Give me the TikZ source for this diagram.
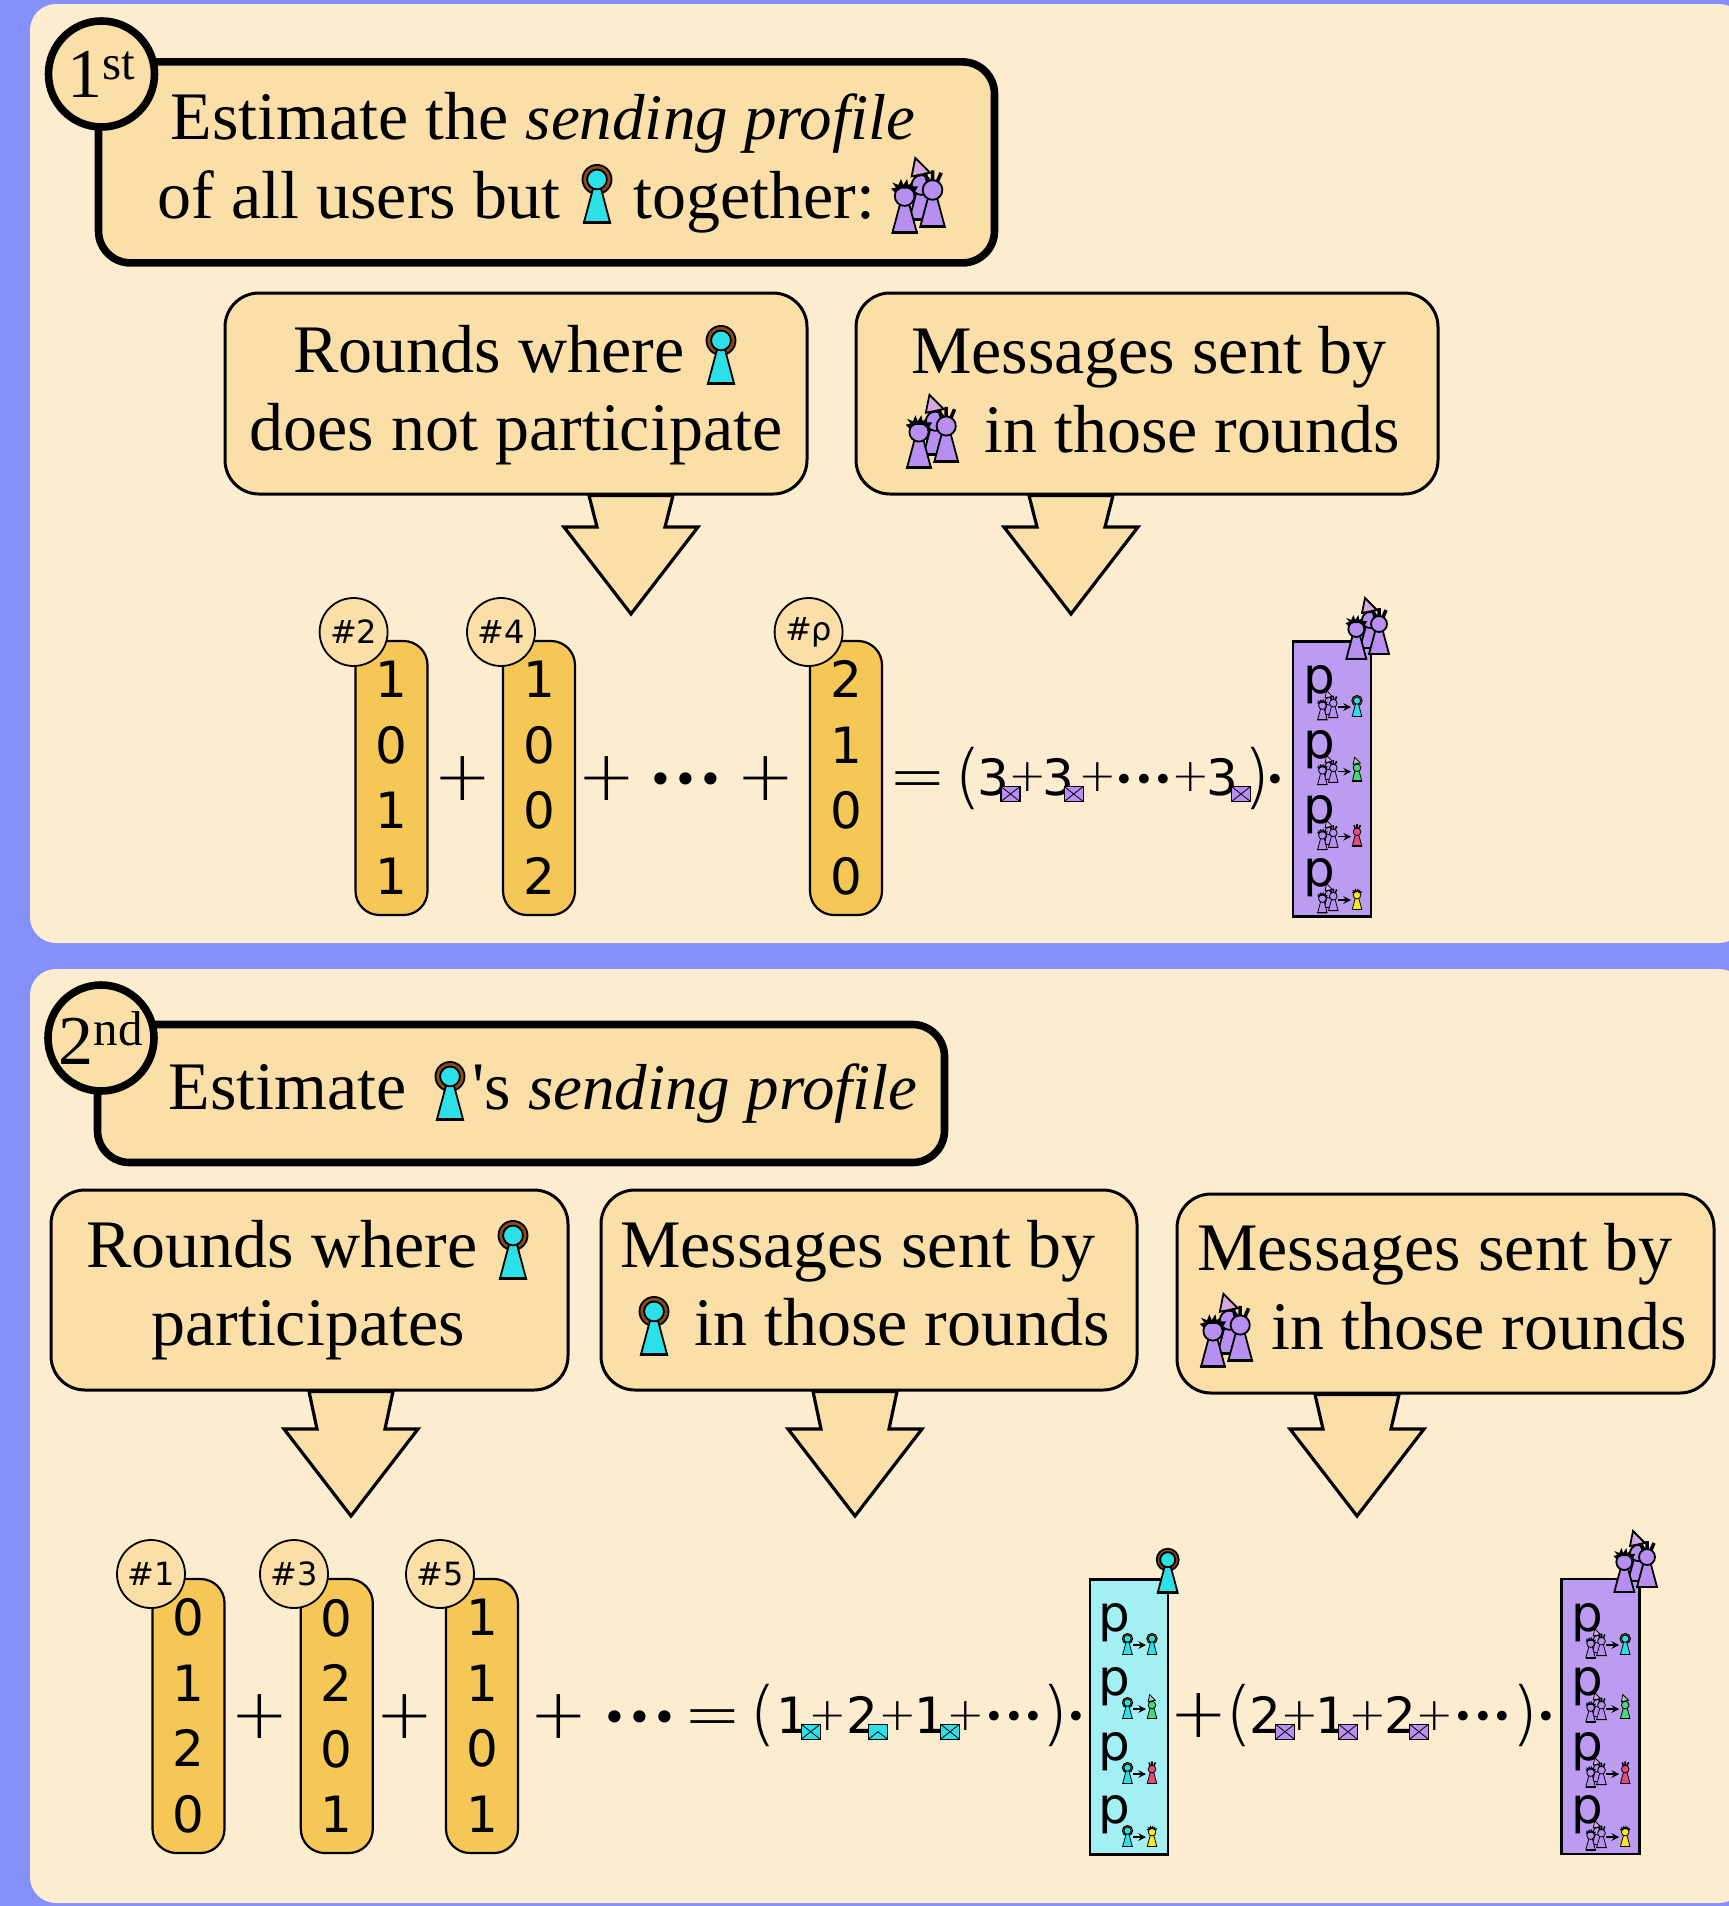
\documentclass[tikz,border=0pt]{standalone}
\usepackage{fontspec}
\setmainfont{Liberation Serif}
\newfontfamily\numfont{DejaVu Sans}
\newfontfamily\thinfont{DejaVu Sans ExtraLight}
\newcommand{\sendprof}{{\fontsize{32.5}{32.5}\selectfont\itshape sending profile}}
\definecolor{backblue}{HTML}{8690FA}
\definecolor{panelfill}{HTML}{FDEDD0}
\definecolor{boxfill}{HTML}{FAE0A8}
\definecolor{vecfill}{HTML}{F4C757}
\definecolor{usrpurple}{HTML}{B68FF0}
\definecolor{boxpurple}{HTML}{BC9CF0}
\definecolor{usrcyan}{HTML}{2CE0E8}
\definecolor{boxcyan}{HTML}{A2F0F4}
\definecolor{usrgreen}{HTML}{48D87A}
\definecolor{usrred}{HTML}{E84B7A}
\definecolor{usryellow}{HTML}{F8E820}
\definecolor{usrbrown}{HTML}{8B4A18}
\definecolor{hatpink}{HTML}{EAB8D8}
\tikzset{
    pics/usrbody/.style={code={
        \filldraw[fill=#1] (-10,0) -- (-2.5,-28) -- (2.5,-28) -- (10,0) -- cycle;
        \fill (-10.5,-1.5) rectangle (10.5,1);
    }},
    pics/ringusr/.style={code={
        \filldraw[fill=usrbrown] (0,-33) circle (11);
        \pic[transform shape] {usrbody=#1};
        \filldraw[fill=#1] (0,-33) circle (7.5);
    }},
    pics/hatusr/.style={code={
        \pic[transform shape] {usrbody=#1};
        \filldraw[fill=#1] (0,-28) circle (8);
        \filldraw[fill=hatpink!60!#1] (-5,-50) -- (7,-38) -- (-8,-35) -- cycle;
    }},
    pics/antusr/.style={code={
        \pic[transform shape] {usrbody=#1};
        \filldraw[fill=#1] (0,-30) circle (8);
        \draw[line width=1.4\pgflinewidth] (-4,-37) -- (-6,-44) (0,-38) -- (0,-46) (4,-37) -- (7,-44);
    }},
    pics/spikeusr/.style={code={
        \pic[transform shape] {usrbody=#1};
        \filldraw[fill=#1] (0,-30) circle (8);
        \fill (-8,-33) -- (-11,-36) -- (-7,-37) -- (-10,-41) -- (-5,-39) -- (-3,-44) -- (-1,-39) -- (2,-44)
            -- (3,-39) -- (7,-42) -- (6,-38) -- (11,-38) -- (8,-33) -- (3,-36) -- (-3,-36) -- cycle;
    }},
    pics/trio/.style={code={
        \pic[transform shape] at (2,-11) {hatusr=#1};
        \pic[transform shape] at (11,-5) {antusr=#1};
        \pic[transform shape] at (-11.7,0) {spikeusr=#1};
    }},
    pics/envl/.style={code={
        \filldraw[fill=#1, line width=.6pt] (-9.5,-7.5) rectangle (9.5,7.5);
        \draw[line width=.4pt] (-9.5,-7.5) -- (9.5,7.5) (-9.5,7.5) -- (9.5,-7.5);
    }},
    pics/envlopen/.style={code={
        \filldraw[fill=#1, line width=.6pt] (-9.5,-7.5) rectangle (9.5,7.5);
        \draw[line width=.4pt] (-9.5,7.5) -- (0,0) -- (9.5,7.5);
    }},
    pics/prow/.style n args={3}{code={
        \node[num node] at (-25.5,-22.5) (p) {p};
        \pic[tiny icon] at (#3) {#1};
        \pic[tiny icon] at (12.5,9.5) {#2};
        \coordinate (ra) at (-6.5,0);
        \coordinate (rb) at (6.5,0);
        \draw[-stealth, line width=.7pt] (ra) -- (rb);
    }},
}
\begin{document}
\begin{tikzpicture}[x=.5pt,y=-.5pt,
    big icon/.style={line width=.9pt},
    tiny icon/.style={scale=.48,line width=.4pt},
    head box/.style={draw,fill=boxfill,line width=3.8pt,rounded corners=16pt},
    order node/.style={circle,draw,fill=boxfill,line width=3.8pt,minimum size=53pt,inner sep=0pt,font=\fontsize{35}{35}\selectfont},
    main box/.style={draw,fill=boxfill,line width=1.5pt,rounded corners=17pt},
    main text/.style={anchor=base,inner sep=0pt,font=\fontsize{34}{34}\selectfont},
    vec node/.style={draw,fill=vecfill,line width=1.1pt,rounded corners=12pt,minimum width=36pt,minimum height=137pt,
        inner sep=0pt,align=center,font=\numfont\fontsize{25}{32.75}\selectfont},
    round node/.style={circle,draw,fill=boxfill,line width=.9pt,minimum size=34pt,inner sep=0pt,font=\numfont\fontsize{16}{16}\selectfont},
    num node/.style={inner sep=0pt,font=\numfont\fontsize{25}{25}\selectfont},
    big sign/.style={inner sep=0pt,font=\thinfont\fontsize{35}{35}\selectfont},
    small sign/.style={inner sep=0pt,font=\thinfont\fontsize{23}{23}\selectfont},
    big dots/.style={inner sep=0pt,font=\numfont\fontsize{21}{21}\selectfont},
    small dots/.style={inner sep=0pt,font=\numfont\fontsize{16.7}{16.7}\selectfont},
    profile box/.style={draw,line width=1.3pt,minimum width=39pt,minimum height=137.5pt,inner sep=0pt},
    big arrow/.style={draw,fill=boxfill,line width=1.6pt,to path={(\tikztostart) ++(-42,0)
        -- ([shift={(-34,-87)}]\tikztotarget) -- ([shift={(-67,-87)}]\tikztotarget)
        -- (\tikztotarget) -- ([shift={(67,-87)}]\tikztotarget) -- ([shift={(34,-87)}]\tikztotarget)
        -- ([shift={(42,0)}]\tikztostart) -- cycle}}]
    \useasboundingbox (0,0) rectangle (1729,1906);
    \fill[backblue] (0,0) rectangle (1729,1906);
    \fill[panelfill,rounded corners=13pt] (30,4) rectangle (1745,943);
    \fill[panelfill,rounded corners=13pt] (30,969) rectangle (1745,1903);

    \node[head box,minimum width=448pt,minimum height=100.5pt] at (546.5,162.4) (head1) {};
    \node[order node] at (101.5,74) (step1) {1\textsuperscript{st}};
    \node[main text] at (543,139) (line1a) {Estimate the \sendprof};
    \node[main text] at (359,218) (line1b) {of all users but};
    \node[main text] at (754,218) (line1c) {together:};
    \pic[big icon,scale=1.32] at (597,223) {ringusr=usrcyan};
    \pic[big icon,scale=1.23] at (919,233) {trio=usrpurple};

    \node[main box,minimum width=291pt,minimum height=100.5pt] at (516,393.5) (rounds1) {};
    \node[main box,minimum width=291pt,minimum height=100.5pt] at (1147,393.5) (sent1) {};
    \node[main text] at (489,372) (text1a) {Rounds where};
    \pic[big icon,scale=1.32] at (721,384) {ringusr=usrcyan};
    \node[main text] at (516,450) (text1b) {does not participate};
    \node[main text] at (1149,373) (text1c) {Messages sent by};
    \pic[big icon,scale=1.2] at (933,468) {trio=usrpurple};
    \node[main text] at (1192,452) (text1d) {in those rounds};

    \coordinate (t1) at (631,614);
    \coordinate (t2) at (1071,614);
    \path
        (rounds1.south -| t1) edge[big arrow] (t1)
        (sent1.south -| t2) edge[big arrow] (t2)
        ;

    \node[vec node] at (391.5,778) (v2) {1\\0\\1\\1};
    \node[vec node] at (539,778) (v4) {1\\0\\0\\2};
    \node[vec node] at (846,778) (vrho) {2\\1\\0\\0};
    \node[round node] at (353.6,632) (n2) {\#2};
    \node[round node] at (501,632) (n4) {\#4};
    \node[round node] at (808.6,632) (nrho) {\#ρ};
    \node[big sign] at (462.6,779) (s1) {+};
    \node[big sign] at (607,779) (s2) {+};
    \node[big dots] at (686,784) (d1) {•••};
    \node[big sign] at (766,779) (s3) {+};
    \node[big sign] at (918,786) (s4) {=};
    \node[big sign] at (968,779) (o1) {(};
    \node[num node] at (993,777) (c1) {3};
    \pic at (1010.5,794) {envl=usrpurple};
    \node[small sign] at (1028,777) (s5) {+};
    \node[num node] at (1058,777) (c2) {3};
    \pic at (1073.7,794) {envl=usrpurple};
    \node[small sign] at (1098,777) (s6) {+};
    \node[small dots] at (1144,783) (d2) {•••};
    \node[small sign] at (1190.7,777) (s7) {+};
    \node[num node] at (1222.7,777) (c3) {3};
    \pic at (1241,794) {envl=usrpurple};
    \node[big sign] at (1256.7,779) (o2) {)};
    \node[small dots] at (1275.7,783) (d3) {•};

    \node[profile box,fill=boxpurple] at (1332,779) (all1) {};
    \pic[big icon] at (1368,659) {trio=usrpurple};
    \pic at (1344.5,707) {prow={trio=usrpurple}{ringusr=usrcyan}{-16.5,13}};
    \pic at (1344.5,771.7) {prow={trio=usrpurple}{hatusr=usrgreen}{-16.5,13}};
    \pic at (1344.5,836.7) {prow={trio=usrpurple}{antusr=usrred}{-16.5,13}};
    \pic at (1344.5,900) {prow={trio=usrpurple}{spikeusr=usryellow}{-16.5,13}};

    \node[head box,minimum width=423.5pt,minimum height=69pt] at (521,1093.5) (head2) {};
    \node[order node] at (101,1038) (step2) {2\textsuperscript{nd}};
    \node[main text] at (287.5,1109) (line2a) {Estimate};
    \pic[big icon,scale=1.32] at (450,1120) {ringusr=usrcyan};
    \node[main text] at (695,1109) (line2b) {\textquotesingle s \sendprof};

    \node[main box,minimum width=258.5pt,minimum height=100pt] at (309.5,1290) (rounds2) {};
    \node[main box,minimum width=268pt,minimum height=100pt] at (869,1290) (sent2) {};
    \node[main box,minimum width=268.5pt,minimum height=99.5pt] at (1445.5,1293.5) (other2) {};
    \node[main text] at (282,1267) (text2a) {Rounds where};
    \pic[big icon,scale=1.32] at (513,1279) {ringusr=usrcyan};
    \node[main text] at (308,1345) (text2b) {participates};
    \node[main text] at (858,1267) (text2c) {Messages sent by};
    \pic[big icon,scale=1.32] at (654,1355) {ringusr=usrcyan};
    \node[main text] at (902,1345) (text2d) {in those rounds};
    \node[main text] at (1435,1270) (text2e) {Messages sent by};
    \pic[big icon,scale=1.2] at (1227,1367) {trio=usrpurple};
    \node[main text] at (1479,1349) (text2f) {in those rounds};

    \coordinate (t3) at (351,1516);
    \coordinate (t4) at (855,1516);
    \coordinate (t5) at (1357,1516);
    \path
        (rounds2.south -| t3) edge[big arrow] (t3)
        (sent2.south -| t4) edge[big arrow] (t4)
        (other2.south -| t5) edge[big arrow] (t5)
        ;

    \node[vec node] at (188.5,1716) (v1) {0\\1\\2\\0};
    \node[vec node] at (336.8,1716) (v3) {0\\2\\0\\1};
    \node[vec node] at (482,1716) (v5) {1\\1\\0\\1};
    \node[round node] at (151,1574) (n1) {\#1};
    \node[round node] at (294,1574) (n3) {\#3};
    \node[round node] at (440,1574) (n5) {\#5};
    \node[big sign] at (260,1717) (s8) {+};
    \node[big sign] at (405,1717) (s9) {+};
    \node[big sign] at (559,1717) (s10) {+};
    \node[big dots] at (640,1722) (d4) {•••};
    \node[big sign] at (712.5,1724) (s11) {=};
    \node[big sign] at (763,1716) (o3) {(};
    \node[num node] at (792,1715) (c4) {1};
    \pic at (810.7,1731.7) {envl=usrcyan};
    \node[small sign] at (827.3,1716) (s12) {+};
    \node[num node] at (862.7,1715) (c5) {2};
    \pic at (878,1731.7) {envlopen=usrcyan};
    \node[small sign] at (897.7,1716) (s13) {+};
    \node[num node] at (930,1715) (c6) {1};
    \pic at (950,1731.7) {envl=usrcyan};
    \node[small sign] at (966,1716) (s14) {+};
    \node[small dots] at (1014,1720) (d5) {•••};
    \node[big sign] at (1055,1716) (o4) {)};
    \node[small dots] at (1076.7,1720) (d6) {•};

    \node[profile box,fill=boxcyan] at (1128.8,1717) (one2) {};
    \pic[big icon] at (1167.7,1592.7) {ringusr=usrcyan};
    \pic at (1139.5,1645) {prow={ringusr=usrcyan}{ringusr=usrcyan}{-12,9.5}};
    \pic at (1139.5,1709) {prow={ringusr=usrcyan}{hatusr=usrgreen}{-12,9.5}};
    \pic at (1139.5,1774) {prow={ringusr=usrcyan}{antusr=usrred}{-12,9.5}};
    \pic at (1139.5,1837) {prow={ringusr=usrcyan}{spikeusr=usryellow}{-12,9.5}};

    \node[big sign] at (1199.3,1716) (s15) {+};
    \node[big sign] at (1239,1716) (o5) {(};
    \node[num node] at (1265,1715) (c7) {2};
    \pic at (1285,1731.7) {envl=usrpurple};
    \node[small sign] at (1300,1716) (s16) {+};
    \node[num node] at (1331.7,1715) (c8) {1};
    \pic at (1348,1731.7) {envl=usrpurple};
    \node[small sign] at (1368,1716) (s17) {+};
    \node[num node] at (1400,1715) (c9) {2};
    \pic at (1419,1731.7) {envl=usrpurple};
    \node[small sign] at (1435,1716) (s18) {+};
    \node[small dots] at (1483,1720) (d7) {•••};
    \node[big sign] at (1525,1716) (o6) {)};
    \node[small dots] at (1546,1720) (d8) {•};

    \node[profile box,fill=boxpurple] at (1600.5,1716.5) (all2) {};
    \pic[big icon] at (1636,1592) {trio=usrpurple};
    \pic at (1612.7,1645) {prow={trio=usrpurple}{ringusr=usrcyan}{-16.5,13}};
    \pic at (1612.7,1709) {prow={trio=usrpurple}{hatusr=usrgreen}{-16.5,13}};
    \pic at (1612.7,1774) {prow={trio=usrpurple}{antusr=usrred}{-16.5,13}};
    \pic at (1612.7,1837) {prow={trio=usrpurple}{spikeusr=usryellow}{-16.5,13}};
\end{tikzpicture}
\end{document}
